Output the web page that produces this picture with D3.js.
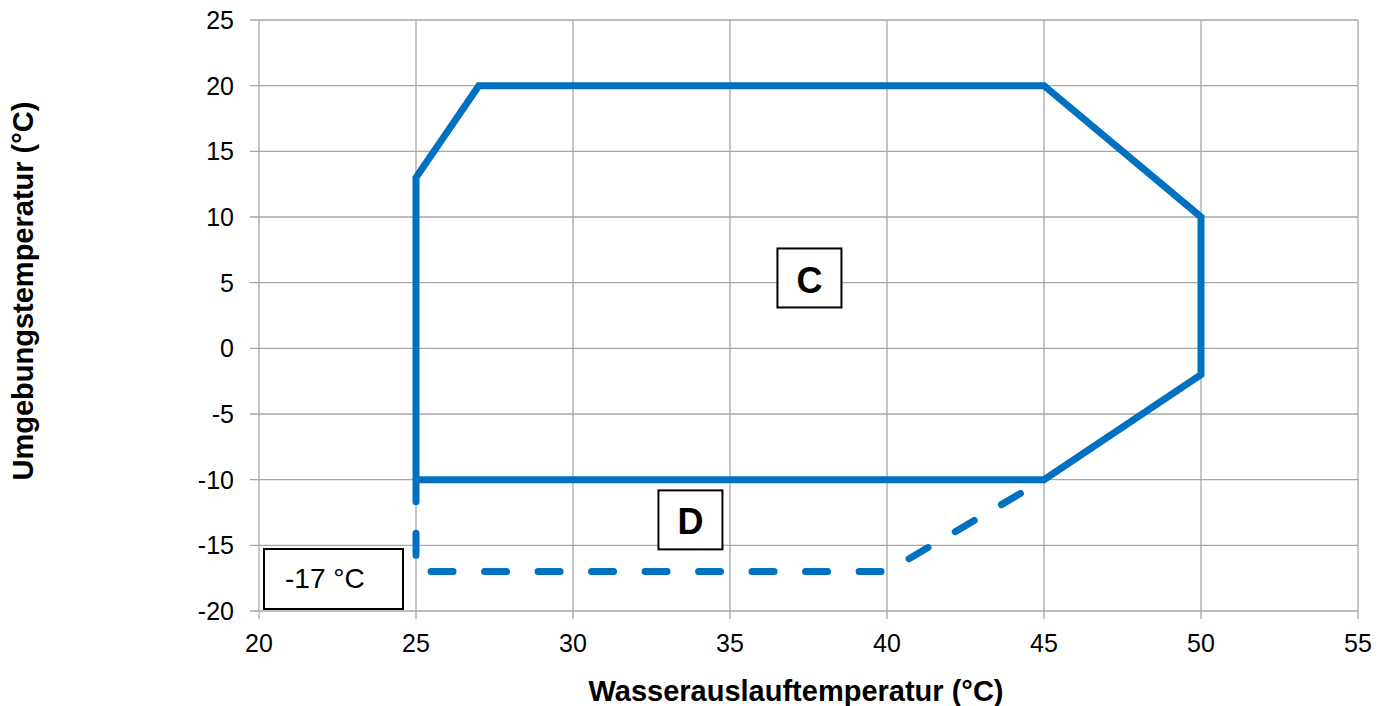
<!DOCTYPE html>
<html><head><meta charset="utf-8">
<script src="https://cdn.jsdelivr.net/npm/d3@7"></script>
<style>body{margin:0;background:#fff;} text{font-family:"Liberation Sans",Arial,sans-serif;}</style>
</head><body>
<svg id="c" width="1391" height="706"></svg>
<script>
const xTicks = [20,25,30,35,40,45,50,55];
const yTicks = [25,20,15,10,5,0,-5,-10,-15,-20];
const solidX = [25,25,27,45,50,50,45,25];
const solidY = [-10,13,20,20,10,-2,-10,-10];
const dashX = [25,25,40,45];
const dashY = [-10,-17,-17,-10];
const labels = [
  {text:"C", x:37.53, y:5.32, dy:15},
  {text:"D", x:33.74, y:-13.1, dy:14}
];
const noteText = "-17 °C";

const svg = d3.select("#c");
const L=259, R=1358, T=20, B=611;
const x = d3.scaleLinear().domain([20,55]).range([L,R]);
const y = d3.scaleLinear().domain([-20,25]).range([B,T]);
const grid="#a6a6a6";

// grid lines
svg.append("g").selectAll("line").data(xTicks).join("line")
  .attr("x1",d=>x(d)).attr("x2",d=>x(d)).attr("y1",T).attr("y2",B+8)
  .attr("stroke",grid).attr("stroke-width",1.3);
svg.append("g").selectAll("line").data(yTicks).join("line")
  .attr("x1",L-9).attr("x2",R).attr("y1",d=>y(d)).attr("y2",d=>y(d))
  .attr("stroke",grid).attr("stroke-width",1.3);

// tick labels
svg.append("g").selectAll("text").data(xTicks).join("text")
  .attr("x",d=>x(d)).attr("y",B+41).attr("text-anchor","middle")
  .attr("font-size",25).attr("fill","#000").text(d=>d);
svg.append("g").selectAll("text").data(yTicks).join("text")
  .attr("x",L-25).attr("y",d=>y(d)+9).attr("text-anchor","end")
  .attr("font-size",25).attr("fill","#000").text(d=>d);

// axis titles
svg.append("text").attr("x",796).attr("y",701).attr("text-anchor","middle")
  .attr("font-size",29).attr("font-weight","bold").text("Wasserauslauftemperatur (°C)");
svg.append("text").attr("transform","translate(33,291) rotate(-90)").attr("text-anchor","middle")
  .attr("font-size",29).attr("font-weight","bold").text("Umgebungstemperatur (°C)");

const line = d3.line().x(d=>x(d[0])).y(d=>y(d[1]));
const blue="#0070c0";

// dashed
svg.append("path").datum(dashX.map((v,i)=>[v,dashY[i]])).attr("d",line)
  .attr("fill","none").attr("stroke",blue).attr("stroke-width",7)
  .attr("stroke-linecap","round").attr("stroke-linejoin","round")
  .attr("stroke-dasharray","22,31.5");
// solid
svg.append("path").datum(solidX.map((v,i)=>[v,solidY[i]])).attr("d",line)
  .attr("fill","none").attr("stroke",blue).attr("stroke-width",7)
  .attr("stroke-linejoin","miter");

// label boxes
labels.forEach(l=>{
  const cx=x(l.x), cy=y(l.y);
  svg.append("rect").attr("x",cx-32).attr("y",cy-30).attr("width",64).attr("height",59)
    .attr("fill","#fff").attr("stroke","#000").attr("stroke-width",2);
  svg.append("text").attr("x",cx).attr("y",cy+l.dy).attr("text-anchor","middle")
    .attr("font-size",36).attr("font-weight","bold").text(l.text);
});
svg.append("rect").attr("x",264).attr("y",549).attr("width",139).attr("height",60)
  .attr("fill","#fff").attr("stroke","#000").attr("stroke-width",2);
svg.append("text").attr("x",285).attr("y",588).attr("font-size",28).text(noteText);
</script>
</body></html>
